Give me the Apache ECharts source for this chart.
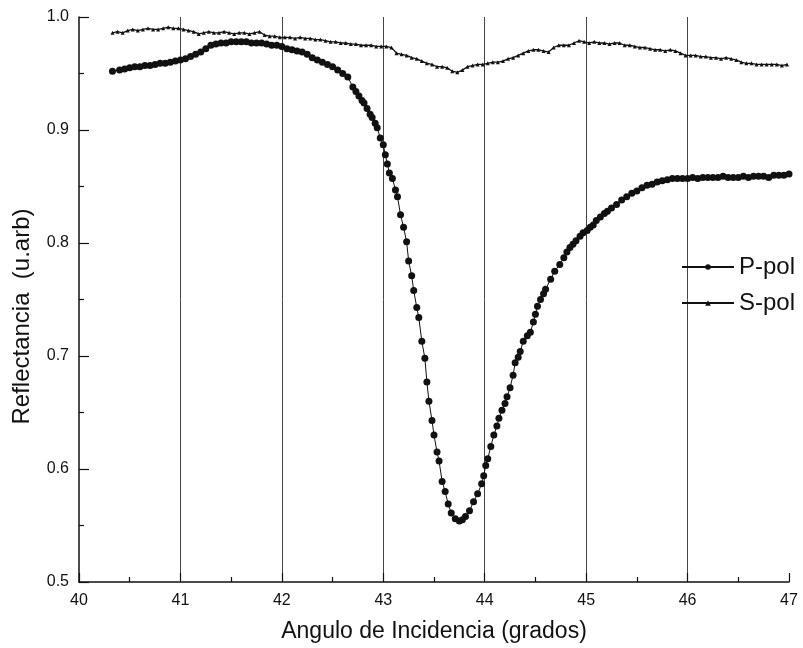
<!DOCTYPE html>
<html><head><meta charset="utf-8">
<script src="https://cdn.jsdelivr.net/npm/echarts@6/dist/echarts.min.js"></script>
<style>html,body{margin:0;padding:0;background:#fff}#c{width:803px;height:648px}</style>
</head><body><div id="c"></div>
<script>
var xTicks = [40,41,42,43,44,45,46,47];
var yTicks = [0.5,0.6,0.7,0.8,0.9,1.0];

var pAngle = [40.33,40.40,40.45,40.50,40.55,40.60,40.65,40.70,40.75,40.80,40.85,40.90,40.95,41.00,41.05,41.10,41.15,41.20,41.25,41.30,41.35,41.40,41.45,41.50,41.55,41.60,41.65,41.70,41.75,41.80,41.85,41.90,41.95,42.00,42.05,42.10,42.15,42.20,42.25,42.30,42.35,42.40,42.45,42.50,42.55,42.60,42.65,42.70,42.73,42.76,42.79,42.81,42.84,42.87,42.89,42.92,42.94,42.97,43.00,43.02,43.04,43.06,43.09,43.12,43.14,43.17,43.20,43.23,43.25,43.28,43.30,43.33,43.35,43.38,43.41,43.43,43.45,43.48,43.50,43.53,43.55,43.58,43.61,43.64,43.67,43.71,43.75,43.78,43.81,43.85,43.89,43.93,43.97,43.99,44.01,44.03,44.06,44.09,44.12,44.14,44.17,44.20,44.22,44.25,44.28,44.30,44.33,44.35,44.38,44.42,44.45,44.48,44.50,44.52,44.55,44.58,44.60,44.65,44.69,44.74,44.78,44.81,44.84,44.87,44.90,44.94,44.97,45.01,45.04,45.07,45.10,45.14,45.18,45.21,45.25,45.30,45.35,45.40,45.45,45.50,45.55,45.60,45.65,45.70,45.75,45.80,45.85,45.90,45.95,46.00,46.05,46.10,46.15,46.20,46.25,46.30,46.35,46.40,46.45,46.50,46.55,46.60,46.65,46.70,46.75,46.80,46.85,46.90,46.95,47.00];
var pRefl = [0.952,0.953,0.954,0.955,0.956,0.956,0.957,0.957,0.958,0.959,0.959,0.960,0.961,0.962,0.963,0.965,0.967,0.969,0.972,0.975,0.976,0.977,0.977,0.978,0.978,0.978,0.978,0.977,0.977,0.977,0.976,0.975,0.975,0.974,0.972,0.971,0.970,0.969,0.967,0.964,0.962,0.960,0.958,0.956,0.953,0.950,0.947,0.938,0.934,0.930,0.926,0.924,0.919,0.914,0.911,0.906,0.902,0.893,0.887,0.878,0.870,0.862,0.857,0.847,0.841,0.825,0.814,0.801,0.784,0.771,0.758,0.743,0.734,0.713,0.698,0.677,0.660,0.643,0.630,0.615,0.607,0.589,0.580,0.569,0.561,0.556,0.554,0.555,0.558,0.563,0.571,0.578,0.587,0.594,0.603,0.609,0.620,0.630,0.638,0.645,0.652,0.658,0.664,0.672,0.683,0.694,0.699,0.704,0.713,0.718,0.721,0.730,0.737,0.744,0.750,0.755,0.759,0.768,0.775,0.781,0.787,0.792,0.796,0.799,0.802,0.806,0.809,0.811,0.814,0.816,0.820,0.823,0.826,0.828,0.831,0.834,0.838,0.841,0.844,0.846,0.849,0.851,0.852,0.854,0.855,0.856,0.857,0.857,0.857,0.857,0.858,0.857,0.858,0.858,0.858,0.858,0.859,0.858,0.858,0.858,0.859,0.858,0.859,0.859,0.859,0.858,0.860,0.860,0.860,0.861];

var sAngle = [40.33,40.38,40.43,40.48,40.53,40.58,40.63,40.68,40.73,40.78,40.83,40.88,40.93,40.98,41.03,41.08,41.13,41.18,41.23,41.28,41.33,41.38,41.43,41.48,41.53,41.58,41.63,41.68,41.73,41.78,41.83,41.88,41.93,41.98,42.03,42.08,42.13,42.18,42.23,42.28,42.33,42.38,42.43,42.48,42.53,42.58,42.63,42.68,42.73,42.78,42.83,42.88,42.93,42.98,43.03,43.08,43.13,43.18,43.23,43.28,43.33,43.38,43.43,43.48,43.53,43.58,43.63,43.68,43.73,43.78,43.83,43.88,43.93,43.98,44.03,44.08,44.13,44.18,44.23,44.28,44.33,44.38,44.43,44.48,44.53,44.58,44.63,44.68,44.73,44.78,44.83,44.88,44.93,44.98,45.03,45.08,45.13,45.18,45.23,45.28,45.33,45.38,45.43,45.48,45.53,45.58,45.63,45.68,45.73,45.78,45.83,45.88,45.93,45.98,46.03,46.08,46.13,46.18,46.23,46.28,46.33,46.38,46.43,46.48,46.53,46.58,46.63,46.68,46.73,46.78,46.83,46.88,46.93,46.98];
var sRefl = [0.986,0.987,0.986,0.988,0.989,0.988,0.989,0.990,0.989,0.989,0.990,0.991,0.990,0.990,0.989,0.988,0.987,0.985,0.986,0.987,0.986,0.986,0.987,0.986,0.985,0.986,0.986,0.985,0.986,0.987,0.984,0.983,0.983,0.982,0.982,0.982,0.981,0.982,0.981,0.981,0.980,0.980,0.979,0.978,0.978,0.977,0.977,0.976,0.976,0.975,0.975,0.975,0.974,0.974,0.974,0.973,0.968,0.967,0.966,0.964,0.963,0.961,0.959,0.958,0.956,0.956,0.955,0.952,0.951,0.953,0.956,0.957,0.958,0.958,0.959,0.960,0.960,0.961,0.963,0.964,0.966,0.968,0.970,0.971,0.971,0.970,0.969,0.973,0.975,0.975,0.975,0.977,0.979,0.978,0.977,0.978,0.977,0.977,0.976,0.977,0.977,0.975,0.975,0.974,0.973,0.973,0.972,0.971,0.971,0.970,0.971,0.970,0.968,0.966,0.966,0.966,0.965,0.965,0.964,0.964,0.963,0.964,0.963,0.962,0.960,0.959,0.959,0.958,0.958,0.958,0.958,0.958,0.957,0.958];

function pairs(xs, ys){ return xs.map(function(x,i){ return [x, ys[i]]; }); }

var FONT = '"Liberation Sans", Arial, sans-serif';
var chart = echarts.init(document.getElementById('c'), null, {renderer:'canvas'});
chart.setOption({
  animation: false,
  backgroundColor: '#fff',
  textStyle: {fontFamily: FONT, color: '#111'},
  grid: {left: 79, right: 14, top: 17, bottom: 64, containLabel: false},
  legend: {
    orient: 'vertical', left: 676, top: 250, itemGap: 12,
    itemWidth: 52, itemHeight: 7,
    textStyle: {fontFamily: FONT, fontSize: 24, color: '#111', lineHeight: 24},
    data: ['P-pol','S-pol']
  },
  xAxis: {
    type: 'value', min: xTicks[0], max: xTicks[xTicks.length-1], interval: 1,
    name: 'Angulo de Incidencia (grados)', nameLocation: 'middle', nameGap: 38,
    nameTextStyle: {fontFamily: FONT, fontSize: 23, color: '#111'},
    axisLine: {show: true, onZero: false, lineStyle: {color: '#111', width: 1.5}},
    axisTick: {show: true, inside: true, length: 9, lineStyle: {color: '#111', width: 1.2}},
    minorTick: {show: true, splitNumber: 2, length: 5, lineStyle: {color: '#111', width: 1.2}},
    axisLabel: {fontFamily: FONT, fontSize: 16, color: '#111', margin: 11},
    splitLine: {show: true, showMinLine: false, showMaxLine: false, lineStyle: {color: '#444', width: 1}}
  },
  yAxis: {
    type: 'value', min: yTicks[0], max: yTicks[yTicks.length-1], interval: 0.1,
    name: 'Reflectancia  (u.arb)', nameLocation: 'middle', nameGap: 45,
    nameTextStyle: {fontFamily: FONT, fontSize: 24, color: '#111', padding: [0, 34, 0, 0]},
    axisLine: {show: true, onZero: false, lineStyle: {color: '#111', width: 1.5}},
    axisTick: {show: true, inside: true, length: 10, lineStyle: {color: '#111', width: 1.2}},
    minorTick: {show: true, splitNumber: 2, length: 5, lineStyle: {color: '#111', width: 1.2}},
    axisLabel: {fontFamily: FONT, fontSize: 16, color: '#111', margin: 10,
      formatter: function(v){ return v.toFixed(1); }},
    splitLine: {show: false}
  },
  series: [
    {name: 'P-pol', type: 'line', data: pairs(pAngle, pRefl),
     symbol: 'circle', symbolSize: 7, showAllSymbol: true,
     itemStyle: {color: '#111'}, lineStyle: {color: '#111', width: 1}},
    {name: 'S-pol', type: 'line', data: pairs(sAngle, sRefl),
     symbol: 'triangle', symbolSize: 4, showAllSymbol: true,
     itemStyle: {color: '#111'}, lineStyle: {color: '#111', width: 1.3}}
  ]
});
</script>
</body></html>
